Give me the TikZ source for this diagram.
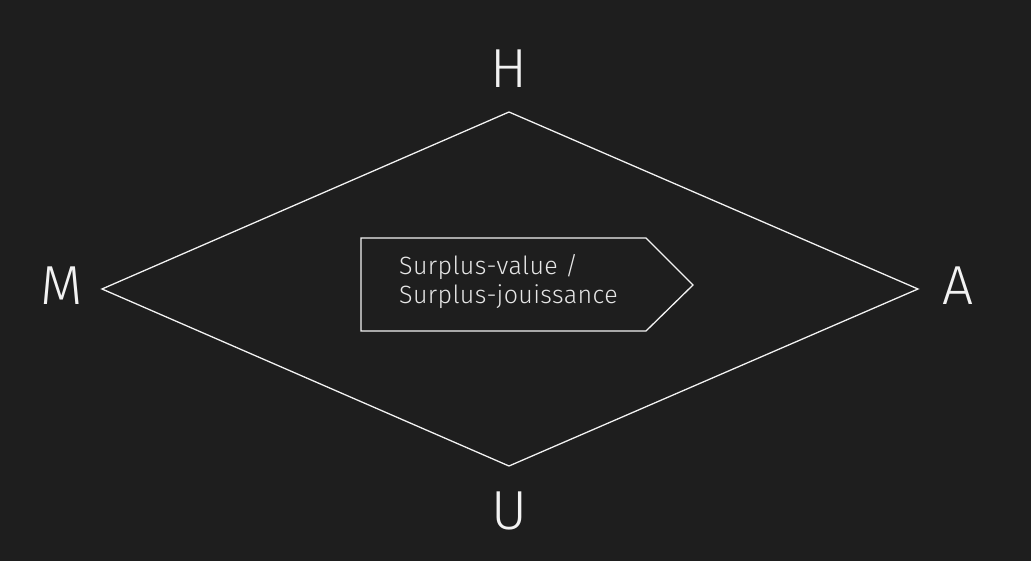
\documentclass[tikz,border=0pt]{standalone}
\usepackage{fontspec}
\setmainfont{Fira Sans}[UprightFont={* Light}]
\newfontfamily\boxfont{Fira Sans}[UprightFont={* Light},LetterSpace=1.5]
\definecolor{bg}{HTML}{1E1E1E}
\definecolor{fg}{HTML}{F2F2F2}
\definecolor{txt}{HTML}{E6E6E6}
\begin{document}
\begin{tikzpicture}[x=1pt,y=-1pt,
  edge/.style={draw=fg,line width=1.3pt,line join=miter},
  lab/.style={text=fg,font=\fontsize{55}{60}\selectfont,inner sep=0pt},
  boxtext/.style={text=txt,anchor=base west,inner sep=0pt,align=left,font=\boxfont\fontsize{25}{29}\selectfont}]
\fill[bg] (0,0) rectangle (1031,561);
\useasboundingbox (0,0) rectangle (1031,561);
\coordinate (h) at (509,112);
\coordinate (m) at (102,289);
\coordinate (a) at (918,289);
\coordinate (u) at (509,466);
\draw[edge] (h) -- (a) -- (u) -- (m) -- cycle;
\node[lab,anchor=base] (H) at (509,88) {H};
\node[lab,anchor=base] (M) at (62,305) {M};
\node[lab,anchor=base] (A) at (958,305) {A};
\node[lab,anchor=base] (U) at (509,529) {U};
\coordinate (p1) at (361,238);
\coordinate (p2) at (646,238);
\coordinate (p3) at (693,285);
\coordinate (p4) at (646,331);
\coordinate (p5) at (361,331);
\draw[edge] (p1) -- (p2) -- (p3) -- (p4) -- (p5) -- cycle;
\node[boxtext] (T) at (399,304) {Surplus-value /\\Surplus-jouissance};
\end{tikzpicture}
\end{document}
